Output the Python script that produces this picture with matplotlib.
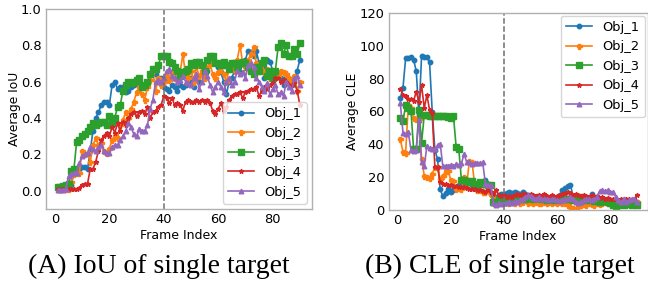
import matplotlib
matplotlib.use("Agg")
import matplotlib.pyplot as plt
import numpy as np

frames = list(range(1, 91))
labels = ["Obj_1", "Obj_2", "Obj_3", "Obj_4", "Obj_5"]

iou_obj1 = [0.01, 0.015, 0.02, 0.02, 0.03, 0.03, 0.10, 0.12, 0.12, 0.13,
            0.13, 0.12, 0.22, 0.33, 0.40, 0.43, 0.47, 0.49, 0.49, 0.47,
            0.58, 0.60, 0.56, 0.57, 0.57, 0.54, 0.55, 0.57, 0.58, 0.60,
            0.59, 0.58, 0.57, 0.60, 0.64, 0.67, 0.64, 0.62, 0.62, 0.57,
            0.56, 0.55, 0.58, 0.57, 0.55, 0.58, 0.57, 0.58, 0.60, 0.62,
            0.57, 0.63, 0.60, 0.64, 0.62, 0.66, 0.73, 0.74, 0.70, 0.68,
            0.65, 0.60, 0.53, 0.60, 0.62, 0.66, 0.68, 0.65, 0.70, 0.72,
            0.77, 0.76, 0.74, 0.77, 0.70, 0.68, 0.62, 0.72, 0.71, 0.66,
            0.65, 0.63, 0.62, 0.58, 0.62, 0.61, 0.58, 0.60, 0.66, 0.72]
iou_obj2 = [0.01, 0.01, 0.01, 0.01, 0.01, 0.05, 0.09, 0.10, 0.10, 0.22,
            0.20, 0.21, 0.16, 0.25, 0.29, 0.25, 0.26, 0.22, 0.21, 0.23,
            0.28, 0.30, 0.29, 0.36, 0.39, 0.43, 0.40, 0.45, 0.49, 0.54,
            0.57, 0.53, 0.50, 0.57, 0.61, 0.66, 0.55, 0.62, 0.58, 0.60,
            0.63, 0.61, 0.65, 0.62, 0.66, 0.65, 0.75, 0.64, 0.62, 0.66,
            0.60, 0.68, 0.63, 0.66, 0.62, 0.68, 0.70, 0.64, 0.62, 0.65,
            0.68, 0.64, 0.60, 0.67, 0.70, 0.66, 0.72, 0.80, 0.70, 0.68,
            0.72, 0.75, 0.79, 0.70, 0.66, 0.70, 0.65, 0.67, 0.62, 0.64,
            0.66, 0.63, 0.66, 0.65, 0.64, 0.62, 0.60, 0.63, 0.55, 0.60]
iou_obj3 = [0.02, 0.02, 0.025, 0.03, 0.04, 0.11, 0.12, 0.27, 0.28, 0.30,
            0.31, 0.33, 0.35, 0.37, 0.36, 0.37, 0.38, 0.38, 0.36, 0.41,
            0.37, 0.40, 0.46, 0.47, 0.55, 0.58, 0.60, 0.59, 0.60, 0.61,
            0.62, 0.57, 0.58, 0.60, 0.64, 0.67, 0.67, 0.69, 0.74, 0.74,
            0.74, 0.71, 0.70, 0.68, 0.66, 0.63, 0.65, 0.66, 0.67, 0.70,
            0.69, 0.71, 0.71, 0.69, 0.66, 0.72, 0.74, 0.74, 0.70, 0.70,
            0.69, 0.71, 0.69, 0.67, 0.70, 0.70, 0.68, 0.70, 0.71, 0.70,
            0.68, 0.66, 0.64, 0.68, 0.66, 0.70, 0.72, 0.63, 0.66, 0.62,
            0.66, 0.79, 0.81, 0.75, 0.80, 0.74, 0.74, 0.78, 0.75, 0.81]
iou_obj4 = [0.01, 0.01, 0.01, 0.01, 0.01, 0.01, 0.01, 0.01, 0.015, 0.03,
            0.04, 0.04, 0.12, 0.12, 0.16, 0.22, 0.28, 0.30, 0.32, 0.30,
            0.35, 0.32, 0.37, 0.33, 0.38, 0.36, 0.40, 0.42, 0.43, 0.41,
            0.43, 0.44, 0.42, 0.46, 0.40, 0.43, 0.44, 0.46, 0.47, 0.52,
            0.51, 0.48, 0.51, 0.47, 0.48, 0.47, 0.44, 0.49, 0.50, 0.49,
            0.49, 0.50, 0.49, 0.50, 0.49, 0.50, 0.48, 0.44, 0.42, 0.45,
            0.48, 0.44, 0.46, 0.50, 0.52, 0.53, 0.53, 0.54, 0.51, 0.54,
            0.55, 0.56, 0.56, 0.57, 0.52, 0.55, 0.57, 0.56, 0.58, 0.59,
            0.62, 0.62, 0.60, 0.61, 0.60, 0.58, 0.58, 0.59, 0.55, 0.47]
iou_obj5 = [0.005, 0.005, 0.005, 0.01, 0.08, 0.09, 0.10, 0.10, 0.15, 0.19,
            0.20, 0.21, 0.24, 0.23, 0.22, 0.24, 0.25, 0.22, 0.21, 0.21,
            0.24, 0.25, 0.25, 0.28, 0.30, 0.33, 0.37, 0.35, 0.31, 0.30,
            0.34, 0.33, 0.33, 0.36, 0.45, 0.50, 0.60, 0.61, 0.60, 0.62,
            0.66, 0.67, 0.63, 0.62, 0.60, 0.61, 0.63, 0.60, 0.59, 0.58,
            0.62, 0.64, 0.56, 0.60, 0.66, 0.63, 0.58, 0.54, 0.57, 0.60,
            0.57, 0.54, 0.60, 0.62, 0.58, 0.60, 0.66, 0.64, 0.65, 0.62,
            0.69, 0.70, 0.68, 0.62, 0.60, 0.57, 0.55, 0.59, 0.53, 0.56,
            0.58, 0.53, 0.54, 0.52, 0.60, 0.57, 0.55, 0.62, 0.63, 0.58]

cle_obj1 = [68, 74.5, 92.5, 92.5, 93, 91.5, 84.5, 58, 94, 93.5,
            93, 90, 60, 36.5, 31, 12.5, 8.5, 10.5, 13, 11,
            12, 13.5, 15, 15.5, 15, 17.5, 17, 15, 13.5, 13,
            15, 15, 18, 14, 10, 8.5, 8, 9, 9.5, 10,
            10.5, 11, 10.5, 11, 10.5, 10, 11, 10, 9, 8.5,
            8, 7.5, 8, 7, 7.5, 6, 7, 6.5, 7, 7.5,
            9, 12, 13.5, 14.5, 15.5, 8, 7, 6.5, 6, 6.5,
            7, 6, 9.5, 7, 6.5, 6, 7, 5.5, 6, 5,
            5.5, 5, 4.5, 5, 4, 4.5, 5, 4, 4.5, 5]
cle_obj2 = [43, 35.5, 35, 64, 62, 56, 55.5, 55.5, 31, 21,
            20, 19.5, 22, 26, 26, 19, 21, 23.5, 24, 18,
            17.5, 13, 13.5, 13, 20, 16, 30, 29, 15, 12,
            12, 11, 11, 12, 10, 8, 6, 7, 6, 5,
            5, 4.5, 5, 4, 5.5, 4.5, 5, 6, 4.5, 5,
            4, 5, 4.5, 4, 5, 4.5, 5, 4, 5, 4.5,
            5, 4, 4.5, 3, 2, 1, 0.5, 2, 3, 3.5,
            3, 4, 3.5, 3, 4, 3.5, 4, 5, 4, 4.5,
            4, 3.5, 4, 4.5, 4, 5, 4.5, 5, 4.5, 5]
cle_obj3 = [56, 54, 64, 62, 60.5, 37, 37, 61, 41, 58,
            58, 57.5, 57, 57, 57, 57, 57.5, 57, 56.5, 56,
            57, 38.5, 37, 18, 18, 17.5, 17, 17.5, 16, 15,
            17, 16.5, 16, 15.5, 15, 5, 4.5, 7, 6, 6.5,
            5, 7, 6, 7.5, 7, 8, 6.5, 7, 7.5, 8,
            7, 7.5, 8, 6.5, 7, 6, 6.5, 7, 6, 7,
            7.5, 8, 7, 6.5, 7, 6, 7.5, 7, 8, 7,
            6, 7, 6.5, 5.5, 6, 5, 5.5, 6, 5, 4.5,
            3, 2.5, 3, 3.5, 3, 4, 3.5, 3, 3.5, 3]
cle_obj4 = [74, 70, 69.5, 67.5, 67.5, 66.5, 72, 66, 76, 62,
            70, 61, 59, 26, 26, 17, 16, 16, 15.5, 15,
            14.5, 14.5, 14, 14, 14, 13.5, 13, 12.5, 12.5, 12,
            12, 11.5, 11, 12, 11, 10, 12, 9, 8.5, 9,
            8, 8.5, 8, 9, 9.5, 9, 10, 9.5, 9, 9.5,
            9, 8.5, 9, 8, 9.5, 8.5, 8, 9, 8, 8.5,
            9, 10, 10.5, 11, 10.5, 9, 9.5, 9, 8.5, 9,
            8.5, 8, 9, 8, 8.5, 7.5, 8, 7, 7.5, 7,
            6.5, 7, 6, 6.5, 7, 6.5, 7, 6, 6.5, 9]
cle_obj5 = [65, 47, 46.5, 47.5, 36.5, 36, 36.5, 55, 29, 26.5,
            39, 37.5, 37, 37, 39.5, 40.5, 26.5, 27, 27, 27.5,
            27, 28, 27.5, 28.5, 34, 29, 29.5, 28, 28.5, 28.5,
            28.5, 29, 16, 15.5, 15, 4, 3, 4.5, 3.5, 4,
            4.5, 5, 4, 5.5, 5, 6, 7, 8, 9, 8.5,
            7.5, 7, 8, 7, 6.5, 7, 6, 7, 6.5, 6,
            5.5, 6, 6.5, 7, 8, 7, 5, 4.5, 5, 6,
            6.5, 7, 6, 7, 8, 11.5, 12, 11.5, 12, 11,
            11, 8, 6, 5, 6.5, 5, 6, 7, 6.5, 5]

iou_series = [iou_obj1, iou_obj2, iou_obj3, iou_obj4, iou_obj5]
cle_series = [cle_obj1, cle_obj2, cle_obj3, cle_obj4, cle_obj5]
colors = ["#1f77b4", "#ff7f0e", "#2ca02c", "#d62728", "#9467bd"]
markers = ["o", "P", "s", "*", "^"]
msizes = [3.2, 3.6, 3.8, 3.4, 3.3]

W, H = 648, 284
fig = plt.figure(figsize=(W / 100, H / 100), dpi=100)

def px_axes(l, r, t, b):
    return [l / W, 1 - b / H, (r - l) / W, (b - t) / H]

ax1 = fig.add_axes(px_axes(45.5, 312, 8.7, 209))
ax2 = fig.add_axes(px_axes(388.5, 647.5, 13, 210))

tick_fs = 9.4
for ax, series, ylabel in [(ax1, iou_series, "Average IoU"), (ax2, cle_series, "Average CLE")]:
    for s, lab, c, m, ms in zip(series, labels, colors, markers, msizes):
        ax.plot(frames, s, color=c, marker=m, markersize=ms, linewidth=1.2, label=lab)
    ax.axvline(40, color="#707070", linestyle="--", linewidth=1.1)
    for sp in ax.spines.values():
        sp.set_color("#b0b0b0")
        sp.set_linewidth(1.0)
    ax.tick_params(length=0, labelsize=tick_fs, pad=3.0)
    ax.set_xlabel("Frame Index", fontsize=9.0, labelpad=2)
    ax.set_ylabel(ylabel, fontsize=8.8, labelpad=0)
    ax.set_xticks([0, 20, 40, 60, 80])

ax1.set_ylim(-0.1, 1.0)
ax1.set_yticks([0.0, 0.2, 0.4, 0.6, 0.8, 1.0])
ax1.set_xlim(-3.45, 94.45)
ax2.set_ylim(0, 120)
ax2.set_yticks([0, 20, 40, 60, 80, 100, 120])
ax2.set_xlim(-3.45, 94.0)

ax1.legend(loc="lower right", fontsize=tick_fs, frameon=True, edgecolor="#cccccc",
           borderaxespad=0.4)
ax2.legend(loc="upper right", fontsize=tick_fs, frameon=True, edgecolor="#cccccc",
           borderaxespad=0.2)

fig.text(158.5 / W, 1 - 266 / H, "(A) IoU of single target", ha="center", va="center",
         fontsize=20, family="Liberation Serif")
fig.text(500 / W, 1 - 266 / H, "(B) CLE of single target", ha="center", va="center",
         fontsize=20, family="Liberation Serif")

fig.savefig("out.png", dpi=100)
